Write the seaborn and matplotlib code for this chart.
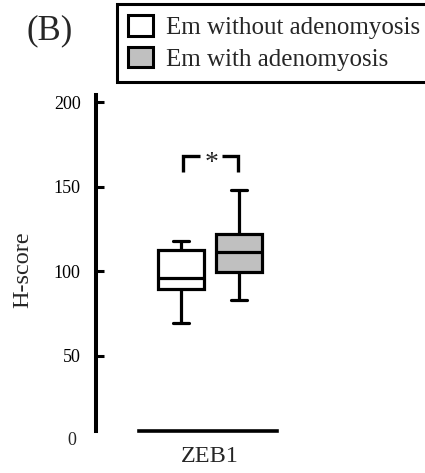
import matplotlib
matplotlib.use("Agg")
import matplotlib.pyplot as plt
import matplotlib.transforms as mtransforms
import seaborn as sns
import pandas as pd

# ---- data (five-number summaries) ----
groups = ["Em without adenomyosis", "Em with adenomyosis"]
gene = ["ZEB1"]
without_adeno = [69.4, 89.8, 96.2, 112.7, 118.0]   # min, Q1, median, Q3, max
with_adeno = [83.0, 99.5, 111.4, 122.0, 148.3]
yticks = [50, 100, 150, 200]
colors = ["white", "#c0c0c0"]
panel_label = "(B)"
sig_label = "*"

sns.set_style("ticks")
plt.rcParams["font.family"] = ["Liberation Serif", "DejaVu Serif"]

df = pd.DataFrame({
    "gene": gene * (len(without_adeno) + len(with_adeno)),
    "group": [groups[0]] * len(without_adeno) + [groups[1]] * len(with_adeno),
    "H-score": without_adeno + with_adeno,
})

fig = plt.figure(figsize=(4.25, 4.73), dpi=100)
ax = fig.add_axes([0.2259, 0.0888, 0.527, 0.7105])

box_width = 0.8
sns.boxplot(data=df, x="gene", y="H-score", hue="group", hue_order=groups,
            palette=colors, saturation=1, width=box_width, gap=0.2,
            linecolor="black", linewidth=2.3, capwidths=0.11,
            whis=1.5, ax=ax, legend=True)

ax.set_ylim(5.6, 204.4)
ax.set_xlim(-0.786, 0.759)
ax.set_yticks(yticks)
ax.set_yticklabels([str(t) for t in yticks])
ax.tick_params(axis="y", direction="in", length=6, width=2.2, pad=11,
               labelsize=13, colors="black")
ax.tick_params(axis="x", length=0, pad=11, labelsize=17.5)
ax.set_xlabel("")
ax.set_ylabel("")

for side in ["top", "right"]:
    ax.spines[side].set_visible(False)
ax.spines["left"].set_linewidth(2.9)
ax.spines["bottom"].set_linewidth(2.6)
ax.spines["bottom"].set_bounds(-0.49, 0.46)
ax.spines["left"].set_color("black")
ax.spines["bottom"].set_color("black")

# "0" label below the end of the axis
trans = mtransforms.blended_transform_factory(ax.transAxes, ax.transData)
ax.text(-0.089, 0, "0", transform=trans, ha="right", va="center",
        fontsize=13, clip_on=False)

# y-axis label
fig.text(22.5 / 425, 1 - 270 / 473, "H-score", rotation=90, ha="center",
         va="center", fontsize=17.5)

# significance bracket between the two boxes
offset = box_width / 4
top_whisker = max(max(without_adeno), max(with_adeno))
leg_bottom = top_whisker + 10.6
bar_y = top_whisker + 20.0
ax.plot([-offset + 0.014, -offset + 0.014, -0.069], [leg_bottom, bar_y, bar_y],
        color="black", lw=2.4, solid_capstyle="butt", solid_joinstyle="miter",
        clip_on=False)
ax.plot([0.083, offset - 0.007, offset - 0.007], [bar_y, bar_y, leg_bottom],
        color="black", lw=2.4, solid_capstyle="butt", solid_joinstyle="miter",
        clip_on=False)
ax.text(0.014, leg_bottom + 1.0, sig_label, ha="center", va="baseline",
        fontsize=20)

# legend
handles, labels = ax.get_legend_handles_labels()
if ax.get_legend() is not None:
    ax.get_legend().remove()
for h in handles:
    h.set_edgecolor("black")
    h.set_linewidth(2.2)
leg = fig.legend(handles, labels, loc="upper left",
                 bbox_to_anchor=(117 / 425, 1 - 4 / 473),
                 fontsize=18, frameon=True, fancybox=False, framealpha=1,
                 edgecolor="black", handlelength=1.0, handleheight=0.9,
                 handletextpad=0.5, borderpad=0.45, labelspacing=0.3,
                 borderaxespad=0)
leg.get_frame().set_linewidth(2.2)

fig.text(27 / 425, 1 - 31 / 473, panel_label, ha="left", va="center", fontsize=25)

fig.savefig("out.png", dpi=100)
